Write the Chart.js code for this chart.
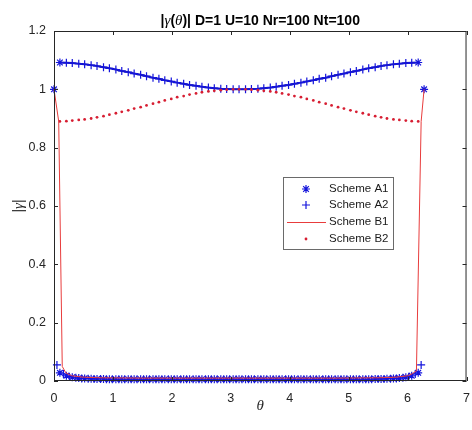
<!DOCTYPE html>
<html>
<head>
<meta charset="utf-8">
<script src="https://cdn.jsdelivr.net/npm/chart.js@4/dist/chart.umd.min.js"></script>
<style>
html, body { margin: 0; padding: 0; background: #fff; }
#wrap { width: 472px; height: 430px; }
</style>
</head>
<body>
<div id="wrap"><canvas id="gammaChart" width="472" height="430"></canvas></div>
<script>
// theta samples (rad)
const thetaGrid = [0, 0.10, 0.21, 0.31, 0.42, 0.52, 0.63, 0.73, 0.84, 0.94, 1.05, 1.15, 1.26, 1.36, 1.47, 1.57,
    1.68, 1.78, 1.88, 1.99, 2.09, 2.20, 2.30, 2.41, 2.51, 2.62, 2.72, 2.83, 2.93, 3.04, 3.14, 3.25, 3.35, 3.46,
    3.56, 3.67, 3.77, 3.87, 3.98, 4.08, 4.19, 4.29, 4.40, 4.50, 4.61, 4.71, 4.82, 4.92, 5.03, 5.13, 5.24, 5.34,
    5.45, 5.55, 5.65, 5.76, 5.86, 5.97, 6.07, 6.18, 6.28];
const thetaMid = [0.05, 0.16, 0.26, 0.37, 0.47, 0.58, 0.68, 0.79, 0.89, 0.99, 1.10, 1.20, 1.31, 1.41, 1.52, 1.62,
    1.73, 1.83, 1.94, 2.04, 2.15, 2.25, 2.36, 2.46, 2.57, 2.67, 2.77, 2.88, 2.98, 3.09, 3.19, 3.30, 3.40, 3.51,
    3.61, 3.72, 3.82, 3.93, 4.03, 4.14, 4.24, 4.35, 4.45, 4.56, 4.66, 4.77, 4.87, 4.97, 5.08, 5.18, 5.29, 5.39,
    5.50, 5.60, 5.71, 5.81, 5.92, 6.02, 6.13, 6.23];

// Scheme A1 (on thetaGrid)
const schemeA1 = [1.000, 0.028, 0.018, 0.013, 0.010, 0.009, 0.008, 0.007, 0.007, 0.006, 0.006, 0.006, 0.006,
    0.006, 0.006, 0.006, 0.006, 0.006, 0.006, 0.006, 0.006, 0.006, 0.006, 0.006, 0.006, 0.006, 0.006, 0.006,
    0.006, 0.006, 0.006, 0.006, 0.006, 0.006, 0.006, 0.006, 0.006, 0.006, 0.006, 0.006, 0.006, 0.006, 0.006,
    0.006, 0.006, 0.006, 0.006, 0.006, 0.006, 0.006, 0.006, 0.006, 0.007, 0.007, 0.008, 0.009, 0.010, 0.013,
    0.018, 0.028, 1.000];
// Scheme A2 (on thetaMid)
const schemeA2 = [0.055, 0.024, 0.015, 0.011, 0.009, 0.008, 0.007, 0.007, 0.006, 0.006, 0.006, 0.006, 0.006,
    0.006, 0.006, 0.006, 0.006, 0.006, 0.006, 0.006, 0.006, 0.006, 0.006, 0.006, 0.006, 0.006, 0.006, 0.006,
    0.006, 0.006, 0.006, 0.006, 0.006, 0.006, 0.006, 0.006, 0.006, 0.006, 0.006, 0.006, 0.006, 0.006, 0.006,
    0.006, 0.006, 0.006, 0.006, 0.006, 0.006, 0.006, 0.006, 0.006, 0.007, 0.007, 0.008, 0.009, 0.011, 0.015,
    0.024, 0.055];
// upper branch (thetaGrid[1..59])
const upperCurve = [1.092, 1.091, 1.090, 1.088, 1.086, 1.083, 1.080, 1.076, 1.072, 1.068, 1.063, 1.059, 1.054,
    1.050, 1.045, 1.040, 1.036, 1.031, 1.027, 1.023, 1.019, 1.015, 1.012, 1.009, 1.006, 1.004, 1.002, 1.001,
    1.000, 1.000, 1.000, 1.001, 1.002, 1.004, 1.006, 1.009, 1.012, 1.015, 1.019, 1.023, 1.027, 1.031, 1.036,
    1.040, 1.045, 1.050, 1.054, 1.059, 1.063, 1.068, 1.072, 1.076, 1.080, 1.083, 1.086, 1.088, 1.090, 1.091,
    1.092];
// Scheme B1
const schemeB1Theta = [0, 0.08, 0.14, 0.20, 0.30, 0.50, 0.80, 1.50, 3.14, 4.80, 5.50, 5.80, 6.00, 6.08, 6.15, 6.23, 6.28];
const schemeB1 = [1.000, 0.890, 0.050, 0.028, 0.018, 0.013, 0.011, 0.010, 0.010, 0.010, 0.011, 0.013, 0.018, 0.025, 0.035, 0.890, 1.000];
// Scheme B2 (thetaGrid[1..59])
const schemeB2 = [0.890, 0.891, 0.893, 0.895, 0.897, 0.900, 0.904, 0.908, 0.913, 0.918, 0.923, 0.928, 0.934,
    0.939, 0.945, 0.951, 0.956, 0.962, 0.967, 0.973, 0.977, 0.982, 0.986, 0.990, 0.993, 0.995, 0.997, 0.999,
    1.000, 1.000, 1.000, 0.999, 0.997, 0.995, 0.993, 0.990, 0.986, 0.982, 0.977, 0.973, 0.967, 0.962, 0.956,
    0.951, 0.945, 0.939, 0.934, 0.928, 0.923, 0.918, 0.913, 0.908, 0.904, 0.900, 0.897, 0.895, 0.893, 0.891,
    0.890];

const legendLabels = ['Scheme A1', 'Scheme A2', 'Scheme B1', 'Scheme B2'];

const BLUE = 'rgb(20, 20, 220)';
const LINE_BLUE = 'rgb(20, 20, 180)';
const RED_LINE = 'rgb(232, 60, 60)';
const RED_DOT = 'rgb(215, 30, 50)';
const AXIS = '#262626';
const SANS = "'Liberation Sans', Arial, sans-serif";
const SERIF = "'Liberation Serif', 'Times New Roman', serif";

const toPoints = (xs, ys) => ys.map((y, i) => ({ x: xs[i], y }));
const innerTheta = thetaGrid.slice(1, 60);

function drawStar(ctx, x, y, r) {
    const d = r * Math.SQRT1_2;
    ctx.beginPath();
    ctx.moveTo(x - r, y); ctx.lineTo(x + r, y);
    ctx.moveTo(x, y - r); ctx.lineTo(x, y + r);
    ctx.moveTo(x - d, y - d); ctx.lineTo(x + d, y + d);
    ctx.moveTo(x - d, y + d); ctx.lineTo(x + d, y - d);
    ctx.stroke();
}

function drawCross(ctx, x, y, r) {
    ctx.beginPath();
    ctx.moveTo(x - r, y); ctx.lineTo(x + r, y);
    ctx.moveTo(x, y - r); ctx.lineTo(x, y + r);
    ctx.stroke();
}

const matlabFrame = {
    id: 'matlabFrame',
    afterDraw(chart) {
        const ctx = chart.ctx;
        const { left, right, top, bottom } = chart.chartArea;
        const xs = chart.scales.x, ys = chart.scales.y;
        ctx.save();

        // box + inward ticks
        ctx.strokeStyle = AXIS;
        ctx.lineWidth = 1;
        ctx.strokeRect(left + 0.5, top + 0.5, right - left - 1, bottom - top - 1);
        ctx.beginPath();
        xs.ticks.forEach(t => {
            const px = Math.round(xs.getPixelForValue(t.value)) + 0.5;
            ctx.moveTo(px, bottom); ctx.lineTo(px, bottom - 4);
            ctx.moveTo(px, top); ctx.lineTo(px, top + 4);
        });
        ys.ticks.forEach(t => {
            const py = Math.round(ys.getPixelForValue(t.value)) + 0.5;
            ctx.moveTo(left, py); ctx.lineTo(left + 4, py);
            ctx.moveTo(right, py); ctx.lineTo(right - 4, py);
        });
        ctx.stroke();

        // title
        const parts = [
            ['|', 'bold 14px ' + SANS],
            ['\u03b3', 'italic 15px ' + SERIF],
            ['(', 'bold 14px ' + SANS],
            ['\u03b8', 'italic 15px ' + SERIF],
            [')| D=1 U=10 Nr=100 Nt=100', 'bold 14px ' + SANS]
        ];
        ctx.fillStyle = '#000';
        ctx.textBaseline = 'alphabetic';
        ctx.textAlign = 'left';
        let total = 0;
        parts.forEach(([s, f]) => { ctx.font = f; total += ctx.measureText(s).width; });
        let tx = (left + right) / 2 - total / 2;
        parts.forEach(([s, f]) => { ctx.font = f; ctx.fillText(s, tx, 25); tx += ctx.measureText(s).width; });

        // axis labels
        ctx.fillStyle = AXIS;
        ctx.font = 'italic 15px ' + SERIF;
        ctx.textAlign = 'center';
        ctx.textBaseline = 'middle';
        ctx.fillText('\u03b8', (left + right) / 2, 406);

        ctx.save();
        ctx.translate(19, (top + bottom) / 2);
        ctx.rotate(-Math.PI / 2);
        const yl = [['|', '14px ' + SANS], ['\u03b3', 'italic 15px ' + SERIF], ['|', '14px ' + SANS]];
        let yw = 0;
        yl.forEach(([s, f]) => { ctx.font = f; yw += ctx.measureText(s).width; });
        let lx = -yw / 2;
        ctx.textAlign = 'left';
        yl.forEach(([s, f]) => { ctx.font = f; ctx.fillText(s, lx, 0); lx += ctx.measureText(s).width; });
        ctx.restore();

        // legend
        const bx = 283, by = 177, bw = 110, bh = 72;
        ctx.fillStyle = '#fff';
        ctx.fillRect(bx, by, bw, bh);
        ctx.strokeStyle = '#6a6a6a';
        ctx.strokeRect(bx + 0.5, by + 0.5, bw, bh);
        const rows = [189, 205, 222, 239];
        const sx = 306;
        ctx.lineWidth = 1.2;
        ctx.strokeStyle = BLUE;
        drawStar(ctx, sx, rows[0], 4);
        drawCross(ctx, sx, rows[1], 4);
        ctx.lineWidth = 1;
        ctx.strokeStyle = RED_LINE;
        ctx.beginPath(); ctx.moveTo(287, rows[2] + 0.5); ctx.lineTo(326, rows[2] + 0.5); ctx.stroke();
        ctx.fillStyle = RED_DOT;
        ctx.beginPath(); ctx.arc(sx, rows[3], 1.4, 0, Math.PI * 2); ctx.fill();
        ctx.fillStyle = '#1a1a1a';
        ctx.font = '11.5px ' + SANS;
        ctx.textAlign = 'left';
        ctx.textBaseline = 'middle';
        legendLabels.forEach((lab, i) => ctx.fillText(lab, 329, rows[i]));

        ctx.restore();
    }
};

const tickFont = { family: SANS, size: 12.5 };

new Chart(document.getElementById('gammaChart').getContext('2d'), {
    type: 'scatter',
    data: {
        datasets: [
            {
                label: legendLabels[0],
                data: toPoints(thetaGrid, schemeA1),
                pointStyle: 'star', pointRadius: 4, pointBorderWidth: 1.2,
                borderColor: BLUE, backgroundColor: BLUE,
                clip: false, order: 5
            },
            {
                label: legendLabels[1],
                data: toPoints(thetaMid, schemeA2),
                pointStyle: 'cross', pointRadius: 4, pointBorderWidth: 1.2,
                borderColor: BLUE, backgroundColor: BLUE,
                clip: false, order: 4
            },
            {
                label: 'upper',
                data: toPoints(innerTheta, upperCurve),
                showLine: true, borderColor: LINE_BLUE, borderWidth: 2, tension: 0,
                pointStyle: c => (c.dataIndex === 0 || c.dataIndex === upperCurve.length - 1) ? 'star' : 'cross',
                pointRadius: 4, pointBorderWidth: 1.2,
                pointBorderColor: BLUE, pointBackgroundColor: BLUE,
                clip: false, order: 3
            },
            {
                label: legendLabels[2],
                data: toPoints(schemeB1Theta, schemeB1),
                showLine: true, borderColor: RED_LINE, borderWidth: 1, tension: 0,
                pointRadius: 0,
                clip: false, order: 2
            },
            {
                label: legendLabels[3],
                data: toPoints(innerTheta, schemeB2),
                pointStyle: 'circle', pointRadius: 1.4, pointBorderWidth: 0,
                backgroundColor: RED_DOT, borderColor: RED_DOT,
                order: 1
            }
        ]
    },
    options: {
        responsive: false,
        animation: false,
        events: [],
        layout: { padding: { left: 0, top: 31, right: 5, bottom: 0 } },
        plugins: {
            legend: { display: false },
            title: { display: false },
            tooltip: { enabled: false }
        },
        scales: {
            x: {
                type: 'linear', min: 0, max: 7,
                ticks: { stepSize: 1, color: AXIS, font: tickFont, padding: 2, maxRotation: 0 },
                grid: { display: false },
                border: { display: false },
                afterFit: s => { s.height = 49; }
            },
            y: {
                min: 0, max: 1.2,
                ticks: { stepSize: 0.2, color: AXIS, font: tickFont, padding: 0,
                    callback: v => String(+v.toFixed(1)) },
                grid: { display: false },
                border: { display: false },
                afterFit: s => { s.width = 54; }
            }
        }
    },
    plugins: [matlabFrame]
});
</script>
</body>
</html>
